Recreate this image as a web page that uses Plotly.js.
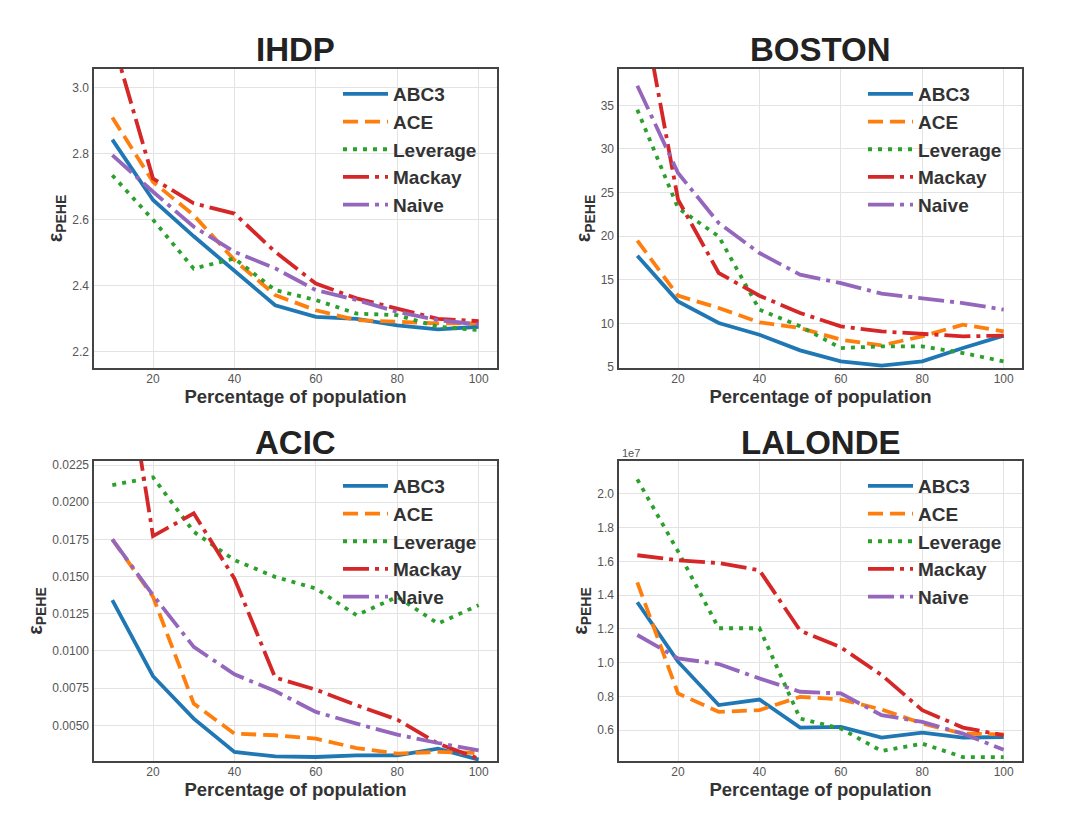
<!DOCTYPE html>
<html>
<head>
<meta charset="utf-8">
<script src="https://cdn.plot.ly/plotly-3.0.1.min.js"></script>
<style>html,body{margin:0;padding:0;background:#fff;}#chart{width:1080px;height:824px;}</style>
</head>
<body>
<div id="chart"></div>
<script>
// ---- data ----
const percentages = [10, 20, 30, 40, 50, 60, 70, 80, 90, 100];
const methods = ["ABC3", "ACE", "Leverage", "Mackay", "Naive"];
const panelTitles = ["IHDP", "BOSTON", "ACIC", "LALONDE"];

const ihdpABC3     = [2.843, 2.660, 2.550, 2.447, 2.341, 2.306, 2.300, 2.280, 2.268, 2.276];
const ihdpACE      = [2.910, 2.715, 2.614, 2.478, 2.372, 2.326, 2.296, 2.290, 2.286, 2.286];
const ihdpLeverage = [2.735, 2.600, 2.452, 2.483, 2.387, 2.357, 2.316, 2.311, 2.276, 2.266];
const ihdpMackay   = [3.150, 2.725, 2.650, 2.619, 2.503, 2.407, 2.362, 2.331, 2.300, 2.293];
const ihdpNaive    = [2.796, 2.685, 2.579, 2.503, 2.453, 2.387, 2.357, 2.321, 2.296, 2.283];

const bostonABC3     = [17.77, 12.53, 10.05, 8.71, 6.91, 5.65, 5.16, 5.65, 7.18, 8.60];
const bostonACE      = [19.49, 13.18, 11.77, 10.13, 9.47, 8.14, 7.49, 8.52, 9.86, 9.09];
const bostonLeverage = [34.50, 23.23, 19.98, 11.58, 9.67, 7.18, 7.37, 7.37, 6.61, 5.65];
const bostonMackay   = [49.50, 24.19, 15.78, 13.18, 11.20, 9.67, 9.09, 8.83, 8.52, 8.60];
const bostonNaive    = [37.25, 27.24, 21.51, 18.07, 15.59, 14.63, 13.41, 12.84, 12.34, 11.58];

const acicABC3     = [0.01341, 0.00830, 0.00545, 0.00321, 0.00291, 0.00287, 0.00298, 0.00298, 0.00343, 0.00269];
const acicACE      = [0.01750, 0.01364, 0.00646, 0.00444, 0.00433, 0.00410, 0.00347, 0.00309, 0.00321, 0.00314];
const acicLeverage = [0.02115, 0.02167, 0.01801, 0.01611, 0.01498, 0.01420, 0.01240, 0.01364, 0.01184, 0.01308];
const acicMackay   = [0.03500, 0.01772, 0.01925, 0.01487, 0.00821, 0.00740, 0.00635, 0.00538, 0.00377, 0.00276];
const acicNaive    = [0.01750, 0.01375, 0.01027, 0.00843, 0.00730, 0.00590, 0.00511, 0.00437, 0.00381, 0.00332];

// LALONDE values in units of 1e7
const lalondeABC3     = [1.358, 1.006, 0.749, 0.782, 0.616, 0.620, 0.556, 0.586, 0.556, 0.560];
const lalondeACE      = [1.475, 0.818, 0.709, 0.719, 0.798, 0.782, 0.723, 0.640, 0.580, 0.576];
const lalondeLeverage = [2.085, 1.659, 1.204, 1.204, 0.669, 0.610, 0.477, 0.521, 0.441, 0.441];
const lalondeMackay   = [1.636, 1.606, 1.590, 1.547, 1.190, 1.091, 0.927, 0.719, 0.616, 0.570];
const lalondeNaive    = [1.164, 1.026, 0.992, 0.907, 0.828, 0.818, 0.689, 0.650, 0.580, 0.485];

const xTicks = [20, 40, 60, 80, 100];
const ihdpYTicks = [2.2, 2.4, 2.6, 2.8, 3.0];
const bostonYTicks = [5, 10, 15, 20, 25, 30, 35];
const acicYTicks = [0.0050, 0.0075, 0.0100, 0.0125, 0.0150, 0.0175, 0.0200, 0.0225];
const lalondeYTicks = [0.6, 0.8, 1.0, 1.2, 1.4, 1.6, 1.8, 2.0];

// ---- styles ----
const colors = ["#1f77b4", "#ff7f0e", "#2ca02c", "#d62728", "#9467bd"];
const dashes = ["solid", "15px,7px", "4px,6px", "26px,6px,4px,6px", "26px,6px,4px,6px"];
const LW = 3.8;
const FONT = "Liberation Sans, Arial, sans-serif";

const panels = [
  {data: [ihdpABC3, ihdpACE, ihdpLeverage, ihdpMackay, ihdpNaive], yr: [2.151, 3.057], yt: ihdpYTicks, fmt: ".1f"},
  {data: [bostonABC3, bostonACE, bostonLeverage, bostonMackay, bostonNaive], yr: [4.89, 39.17], yt: bostonYTicks, fmt: "d"},
  {data: [acicABC3, acicACE, acicLeverage, acicMackay, acicNaive], yr: [0.00260, 0.02277], yt: acicYTicks, fmt: ".4f"},
  {data: [lalondeABC3, lalondeACE, lalondeLeverage, lalondeMackay, lalondeNaive], yr: [0.418, 2.194], yt: lalondeYTicks, fmt: ".1f"}
];

const W = 1080, H = 824;
const boxes = [
  {l: 94, r: 497, t: 69, b: 368},
  {l: 619, r: 1022, t: 69, b: 368},
  {l: 94, r: 497, t: 461, b: 761},
  {l: 619, r: 1022, t: 461, b: 761}
];

const traces = [];
const layout = {
  width: W, height: H,
  margin: {l: 0, r: 0, t: 0, b: 0},
  paper_bgcolor: "#fff", plot_bgcolor: "#fff",
  font: {family: FONT, color: "#333"},
  showlegend: true,
  annotations: []
};

panels.forEach((p, i) => {
  const n = i + 1;
  const xa = "x" + (n === 1 ? "" : n), ya = "y" + (n === 1 ? "" : n);
  const legName = "legend" + (n === 1 ? "" : n);
  p.data.forEach((vals, k) => {
    traces.push({
      x: percentages, y: vals, xaxis: xa, yaxis: ya,
      type: "scatter", mode: "lines", name: methods[k],
      legend: legName,
      line: {color: colors[k], width: LW, dash: dashes[k]},
      hoverinfo: "skip"
    });
  });
  const bx = boxes[i];
  const axBase = {
    showline: true, mirror: true, linecolor: "#444", linewidth: 1.6,
    showgrid: true, gridcolor: "#e3e3e3", gridwidth: 1,
    zeroline: false, ticks: "outside", tickcolor: "rgba(0,0,0,0)",
    tickfont: {family: FONT, size: 12, color: "#555"}
  };
  layout["xaxis" + (n === 1 ? "" : n)] = Object.assign({}, axBase, {
    domain: [bx.l / W, bx.r / W], anchor: ya, range: [5.5, 104.5],
    tickmode: "array", tickvals: xTicks, ticklen: 1, ticklabelstandoff: -2,
    title: {text: "Percentage of population", font: {family: FONT, size: 18.5, color: "#333", weight: "bold"}, standoff: 4}
  });
  layout["yaxis" + (n === 1 ? "" : n)] = Object.assign({}, axBase, {
    domain: [1 - bx.b / H, 1 - bx.t / H], anchor: xa, range: p.yr,
    tickmode: "array", tickvals: p.yt, tickformat: p.fmt, ticklen: 1,
    title: {text: "ε<sub>PEHE</sub>", font: {family: FONT, size: 20, color: "#333", weight: "bold"}, standoff: 4}
  });
  layout[legName] = {
    x: (bx.l + 244) / W, y: 1 - (bx.t + 6) / H, xanchor: "left", yanchor: "top",
    bgcolor: "rgba(0,0,0,0)", borderwidth: 0, itemwidth: 45,
    font: {family: FONT, size: 19, color: "#333", weight: "bold"}
  };
  layout.annotations.push({
    text: "<b>" + panelTitles[i] + "</b>", showarrow: false,
    xref: "paper", yref: "paper", x: (bx.l + bx.r) / 2 / W, y: 1 - (bx.t - 19) / H,
    xanchor: "center", yanchor: "middle",
    font: {family: FONT, size: 33, color: "#222"}
  });
});

layout.annotations.push({
  text: "1e7", showarrow: false, xref: "paper", yref: "paper",
  x: 620 / W, y: 1 - 453 / H, xanchor: "left", yanchor: "middle",
  font: {family: FONT, size: 11, color: "#555"}
});

Plotly.newPlot("chart", traces, layout, {staticPlot: true, displayModeBar: false});
</script>
</body>
</html>
